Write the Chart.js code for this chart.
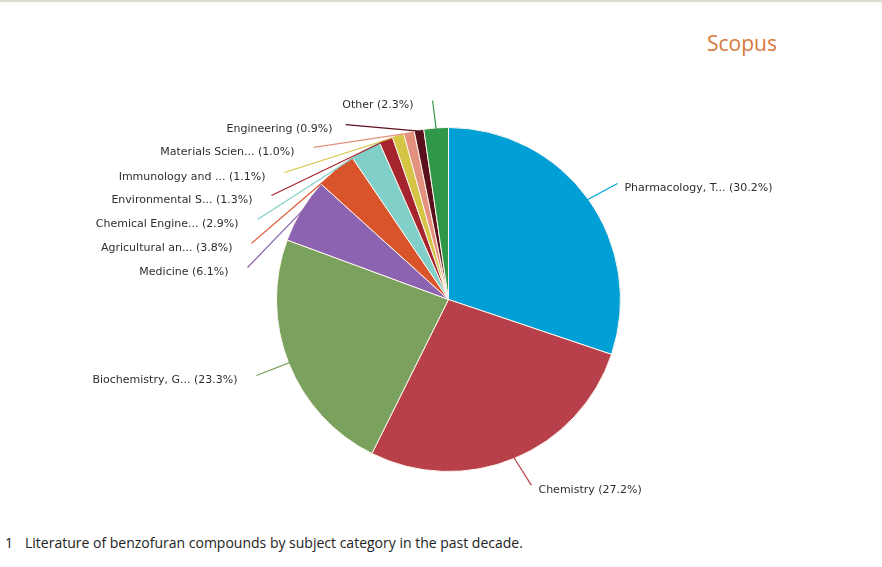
<!DOCTYPE html>
<html>
<head>
<meta charset="utf-8">
<script src="https://cdn.jsdelivr.net/npm/chart.js@4.4.1/dist/chart.umd.min.js"></script>
<style>
  html, body { margin: 0; padding: 0; background: #ffffff; }
  #wrap { position: relative; width: 882px; height: 567px; overflow: hidden; background: #fff; }
  #topline { position: absolute; left: 0; top: 0; width: 882px; height: 2px; background: #dcdcd2; }
  #topband { position: absolute; left: 0; top: 2px; width: 882px; height: 6px; background: linear-gradient(#fbfbf3, #ffffff); }
  #title { position: absolute; left: 707px; top: 28px; font-family: "Open Sans", sans-serif; font-size: 21px; color: #d77a3c; line-height: 30px; }
  #caption { position: absolute; left: 5px; top: 534px; font-family: "Open Sans", sans-serif; font-size: 14px; color: #222; line-height: 18px; white-space: nowrap; }
  #caption .num { display: inline-block; width: 20px; }
  canvas { position: absolute; left: 0; top: 0; }
</style>
</head>
<body>
<div id="wrap">
  <div id="topline"></div>
  <div id="topband"></div>
  <div id="title">Scopus</div>
  <div id="caption"><span class="num">1</span>Literature of benzofuran compounds by subject category in the past decade.</div>
  <canvas id="c" width="882" height="567"></canvas>
</div>
<script>
// ---- data ----
const categories = [
  "Pharmacology, T...",
  "Chemistry",
  "Biochemistry, G...",
  "Medicine",
  "Agricultural an...",
  "Chemical Engine...",
  "Environmental S...",
  "Immunology and ...",
  "Materials Scien...",
  "Engineering",
  "Other"
];
const shares = [30.2, 27.2, 23.3, 6.1, 3.8, 2.9, 1.3, 1.1, 1.0, 0.9, 2.3];

// ---- styles / layout ----
const sliceColors = [
  "#00a0d6", "#b8404a", "#7aa15e", "#8c63b0", "#d9532b", "#80cfc8",
  "#a6242d", "#d6c445", "#e4917f", "#5a0f1c", "#2e9748"
];
// label text anchor relative to pie centre, in units of the radius
const labelDX = [1.023, 0.523, -1.227, -1.279, -1.256, -1.221, -1.140, -1.064, -0.895, -0.674, -0.203];
const labelDY = [-0.645, 1.110, 0.471, -0.157, -0.297, -0.436, -0.576, -0.709, -0.855, -0.988, -1.128];

const leaderPlugin = {
  id: "leaders",
  afterDatasetsDraw(chart) {
    const ctx = chart.ctx;
    const meta = chart.getDatasetMeta(0);
    ctx.save();
    ctx.font = "11px 'DejaVu Sans', sans-serif";
    ctx.textBaseline = "middle";
    meta.data.forEach((arc, i) => {
      const p = arc.getProps(["x", "y", "startAngle", "endAngle", "outerRadius"], true);
      const mid = (p.startAngle + p.endAngle) / 2;
      const r = p.outerRadius;
      const sx = p.x + Math.cos(mid) * (r - 1);
      const sy = p.y + Math.sin(mid) * (r - 1);
      const tx = p.x + labelDX[i] * r;
      const ty = p.y + labelDY[i] * r;
      const right = labelDX[i] > 0;
      const ax = right ? tx - 7 : tx + (i === 9 ? 13 : 19);
      const ay = ty - 5;
      ctx.strokeStyle = sliceColors[i];
      ctx.lineWidth = 1.2;
      ctx.beginPath();
      ctx.moveTo(sx, sy);
      ctx.lineTo(ax, ay);
      ctx.stroke();
      ctx.fillStyle = "#2e2e2e";
      ctx.textAlign = right ? "left" : "right";
      ctx.fillText(categories[i] + " (" + shares[i].toFixed(1) + "%)", tx, ty);
    });
    ctx.restore();
  }
};

new Chart(document.getElementById("c"), {
  type: "pie",
  data: {
    labels: categories,
    datasets: [{
      data: shares,
      backgroundColor: sliceColors,
      borderColor: "#fdf6ee",
      borderWidth: 1
    }]
  },
  options: {
    responsive: false,
    animation: false,
    layout: { padding: { left: 276, right: 261, top: 127, bottom: 95 } },
    plugins: {
      legend: { display: false },
      tooltip: { enabled: false },
      title: { display: false }
    }
  },
  plugins: [leaderPlugin]
});
</script>
</body>
</html>
